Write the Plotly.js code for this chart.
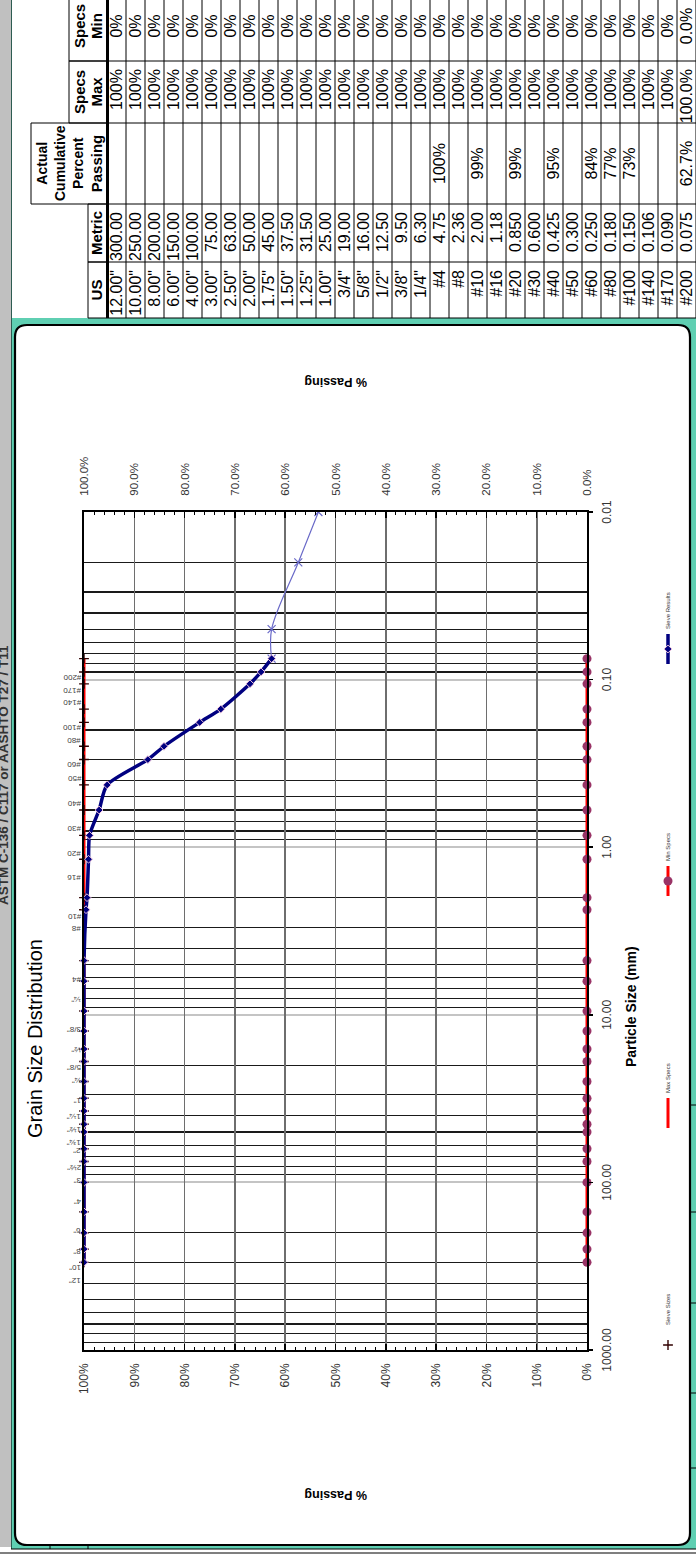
<!DOCTYPE html>
<html><head><meta charset="utf-8">
<script src="https://cdn.plot.ly/plotly-3.0.1.min.js"></script>
<style>
html,body{margin:0;padding:0;width:696px;height:1554px;overflow:hidden;background:#fff;}
#wrap{position:absolute;left:0;top:0;width:1580px;height:700px;transform-origin:0 0;}
</style></head><body>
<div id="wrap"><div id="chart"></div></div>
<script>
// ---------- DATA ----------
const usSieves = ['12.00"','10.00"','8.00"','6.00"','4.00"','3.00"','2.50"','2.00"','1.75"','1.50"','1.25"','1.00"','3/4"','5/8"','1/2"','3/8"','1/4"','#4','#8','#10','#16','#20','#30','#40','#50','#60','#80','#100','#140','#170','#200'];
const metricSizes = ['300.00','250.00','200.00','150.00','100.00','75.00','63.00','50.00','45.00','37.50','31.50','25.00','19.00','16.00','12.50','9.50','6.30','4.75','2.36','2.00','1.18','0.850','0.600','0.425','0.300','0.250','0.180','0.150','0.106','0.090','0.075'];
const actualPassing = ['','','','','','','','','','','','','','','','','','100%','','99%','','99%','','95%','','84%','77%','73%','','','62.7%'];
const specMax = ['100%','100%','100%','100%','100%','100%','100%','100%','100%','100%','100%','100%','100%','100%','100%','100%','100%','100%','100%','100%','100%','100%','100%','100%','100%','100%','100%','100%','100%','100%','100.0%'];
const specMin = ['0%','0%','0%','0%','0%','0%','0%','0%','0%','0%','0%','0%','0%','0%','0%','0%','0%','0%','0%','0%','0%','0%','0%','0%','0%','0%','0%','0%','0%','0%','0.0%'];
const tableHeader = ['US','Metric','Passing','Max','Min'];
const sieveLabels = ['12"','10"','8"','6"','4"','3"','2½"','2"','1¾"','1½"','1¼"','1"','¾"','5/8"','½"','3/8"','¼"','#4','#8','#10','#16','#20','#30','#40','#50','#60','#80','#100','#140','#170','#200'];
const sieveMarkLevel = [100,100,100,100,100,100,100,100,100,100,100,100,100,100,100,100,100,100,100,100,100,100,100,100,100,100,100,100,100,100,100];
const sieveResults = [100,100,100,100,100,100,100,100,100,100,100,100,100,100,100,100,100,100,99.6,99.4,99.1,98.9,97.0,95.4,87.3,84.1,77.0,72.8,67.0,64.8,62.7];
const extSizes = [0.075,0.05,0.02,0.01];
const extPassing = [62.7,62.7,57.4,53.4];
const sizeTicks = [0.01,0.1,1,10,100,1000];
const pctTicks = [0,10,20,30,40,50,60,70,80,90,100];
const pctLabelsLeft = ['0%','10%','20%','30%','40%','50%','60%','70%','80%','90%','100%'];
const pctLabelsRight = ['0.0%','10.0%','20.0%','30.0%','40.0%','50.0%','60.0%','70.0%','80.0%','90.0%','100.0%'];

// ---------- DERIVED ----------
const sizes = metricSizes.map(Number);
const maxVals = specMax.map(parseFloat);
const minVals = specMin.map(parseFloat);
const minorVals = [];
for (let d = -2; d < 3; d++) for (let m = 2; m < 10; m++) minorVals.push(m * Math.pow(10, d));

// ---------- GEOMETRY (landscape page, rotated afterwards) ----------
const W = 1580, H = 700;
const fx = X => X / W;
const fy = Y => 1 - Y / H;
const FONT = 'Liberation Sans, Arial, sans-serif';
function roundRect(x0, y0, x1, y1, r) {
  const P = (X, Y) => fx(X) + ',' + fy(Y);
  return 'M' + P(x0 + r, y0) + ' L' + P(x1 - r, y0) + ' Q' + P(x1, y0) + ' ' + P(x1, y0 + r) +
    ' L' + P(x1, y1 - r) + ' Q' + P(x1, y1) + ' ' + P(x1 - r, y1) +
    ' L' + P(x0 + r, y1) + ' Q' + P(x0, y1) + ' ' + P(x0, y1 - r) +
    ' L' + P(x0, y0 + r) + ' Q' + P(x0, y0) + ' ' + P(x0 + r, y0) + ' Z';
}
const pr = {xref: 'paper', yref: 'paper'};
const colEdges = [1236, 1292, 1350, 1431, 1493, 1563];
const colW = colEdges.slice(1).map((e, i) => e - colEdges[i]);
const headTop = 88, bodyTop = 107, rowH = 19, textLift = 5;

const traces = [
  {type: 'scatter', x: sizes, y: maxVals, name: 'Max Specs', mode: 'lines', legendrank: 2,
   line: {color: '#ff0000', width: 3}, cliponaxis: false, hoverinfo: 'skip'},
  {type: 'scatter', x: sizes, y: minVals, name: 'Min Specs', mode: 'lines+markers', legendrank: 3,
   line: {color: '#ff0000', width: 3}, marker: {symbol: 'circle', size: 9, color: '#993366'},
   cliponaxis: false, hoverinfo: 'skip'},
  {type: 'scatter', x: sizes, y: sieveMarkLevel, name: 'Sieve Sizes', mode: 'markers', legendrank: 1,
   marker: {symbol: 'cross-thin', size: 7, color: '#300000', line: {width: 1.4, color: '#300000'}},
   cliponaxis: false, hoverinfo: 'skip'},
  {type: 'scatter', x: extSizes, y: extPassing, name: 'ext', mode: 'lines+markers', showlegend: false,
   line: {color: '#6a6ac8', width: 1.2, shape: 'spline', smoothing: 1},
   marker: {symbol: 'x-thin', size: 8, color: '#6a6ac8', line: {width: 1.2, color: '#6a6ac8'}}, hoverinfo: 'skip'},
  {type: 'scatter', x: sizes, y: sieveResults, name: 'Sieve Results', mode: 'lines+markers', legendrank: 4,
   line: {color: '#000080', width: 3.5, shape: 'spline', smoothing: 0.7},
   marker: {symbol: 'diamond', size: 6, color: '#000080', line: {width: 1, color: '#f0c4dc'}},
   cliponaxis: false, hoverinfo: 'skip'},
  {type: 'scatter', x: extSizes, y: extPassing, yaxis: 'y2', mode: 'none', showlegend: false, hoverinfo: 'skip'},
  {type: 'table', domain: {x: [fx(colEdges[0]), fx(colEdges[5])], y: [0, fy(headTop - textLift)]},
   columnwidth: colW,
   header: {values: tableHeader, height: rowH, align: 'center',
            line: {color: 'rgba(0,0,0,0)', width: 0}, fill: {color: 'rgba(255,255,255,0)'},
            font: {family: FONT, size: 15, color: '#000', weight: 'bold'}},
   cells: {values: [usSieves, metricSizes, actualPassing, specMax, specMin], height: rowH,
           align: ['right', 'right', 'center', 'right', 'center'],
           line: {color: 'rgba(0,0,0,0)', width: 0}, fill: {color: 'rgba(255,255,255,0)'},
           font: {family: FONT, size: 16, color: '#000'}}}
];

const shapes = [
  Object.assign({type: 'rect', x0: fx(7), x1: 1, y0: fy(11), y1: 1, fillcolor: '#c0c0c0', line: {width: 0}, layer: 'below'}, pr),
  Object.assign({type: 'rect', x0: fx(5), x1: fx(1236), y0: 0, y1: fy(11.5), fillcolor: '#5fcfb2', line: {width: 0}, layer: 'below'}, pr),
  Object.assign({type: 'line', x0: fx(5), x1: 1, y0: fy(11.5), y1: fy(11.5), line: {color: '#2d5c52', width: 1}, layer: 'below'}, pr),
  Object.assign({type: 'path', path: roundRect(9, 15, 1229, 690, 12), fillcolor: '#fff', line: {color: '#000', width: 2.2}, layer: 'below'}, pr),
  Object.assign({type: 'line', x0: fx(1), x1: fx(1), y0: 0, y1: 1, line: {color: '#000', width: 1.2}}, pr),
  Object.assign({type: 'line', x0: fx(5), x1: fx(5), y0: 0, y1: fy(11), line: {color: '#000', width: 1.2}}, pr)
];
// table header boxes
[[colEdges[0], colEdges[1], headTop], [colEdges[1], colEdges[2], headTop], [colEdges[2], colEdges[3], 31],
 [colEdges[3], colEdges[4], 69], [colEdges[4], colEdges[5], 69]].forEach(b => shapes.push(Object.assign(
  {type: 'rect', x0: fx(b[0]), x1: fx(b[1]), y0: fy(bodyTop), y1: fy(b[2]), line: {color: '#000', width: 1},
   fillcolor: 'rgba(0,0,0,0)', layer: 'above'}, pr)));
// body grid
colEdges.forEach(X => shapes.push(Object.assign({type: 'line', x0: fx(X), x1: fx(X), y0: 0, y1: fy(bodyTop),
  line: {color: '#000', width: 1}, layer: 'above'}, pr)));
usSieves.forEach((u, i) => shapes.push(Object.assign({type: 'line', x0: fx(colEdges[0]), x1: fx(colEdges[5]),
  y0: fy(bodyTop + rowH * (i + 1)), y1: fy(bodyTop + rowH * (i + 1)), line: {color: '#000', width: 1}, layer: 'above'}, pr)));
shapes.push(Object.assign({type: 'line', x0: fx(colEdges[0]), x1: fx(colEdges[5]), y0: fy(bodyTop + 0.5), y1: fy(bodyTop + 0.5),
  line: {color: '#000', width: 3}, layer: 'above'}, pr));
// spreadsheet cell ticks in the frame
[86, 161, 251, 342, 449].forEach(X => shapes.push(Object.assign({type: 'line', x0: fx(X), x1: fx(X), y0: fy(691), y1: fy(700), line: {color: '#000', width: 1}}, pr)));
[50, 88].forEach(Y => shapes.push(Object.assign({type: 'line', x0: fx(5), x1: fx(9), y0: fy(Y), y1: fy(Y), line: {color: '#000', width: 1}}, pr)));

const annotations = [
  Object.assign({text: 'ASTM C-136 / C117 or AASHTO T27 / T11', x: fx(779), y: fy(3.5), showarrow: false,
    xanchor: 'center', yanchor: 'middle', font: {family: FONT, size: 13.5, color: '#333', weight: 'bold'}}, pr),
  Object.assign({text: 'Grain Size Distribution', x: fx(515), y: fy(35), showarrow: false,
    xanchor: 'center', yanchor: 'middle', font: {family: FONT, size: 20, color: '#000'}}, pr),
  Object.assign({text: '% Passing', x: fx(59), y: fy(336), showarrow: false, textangle: -90,
    xanchor: 'center', yanchor: 'middle', font: {family: FONT, size: 12.5, color: '#000', weight: 'bold'}}, pr),
  Object.assign({text: '% Passing', x: fx(1172), y: fy(336), showarrow: false, textangle: -90,
    xanchor: 'center', yanchor: 'middle', font: {family: FONT, size: 12.5, color: '#000', weight: 'bold'}}, pr),
  Object.assign({text: 'Particle Size (mm)', x: fx(547), y: fy(631), showarrow: false,
    xanchor: 'center', yanchor: 'middle', font: {family: FONT, size: 14, color: '#000', weight: 'bold'}}, pr),
  Object.assign({text: 'Actual<br>Cumulative<br>Percent', x: fx(1390.5), y: fy(60), showarrow: false,
    xanchor: 'center', yanchor: 'middle', font: {family: FONT, size: 14, color: '#000', weight: 'bold'}}, pr),
  Object.assign({text: 'Specs', x: fx(1462), y: fy(79), showarrow: false,
    xanchor: 'center', yanchor: 'middle', font: {family: FONT, size: 15, color: '#000', weight: 'bold'}}, pr),
  Object.assign({text: 'Specs', x: fx(1528), y: fy(79), showarrow: false,
    xanchor: 'center', yanchor: 'middle', font: {family: FONT, size: 15, color: '#000', weight: 'bold'}}, pr)
];
sizes.forEach((s, i) => annotations.push({
  x: Math.log10(s), y: sieveMarkLevel[i], xref: 'x', yref: 'y', text: sieveLabels[i], showarrow: false,
  textangle: -90, xanchor: 'center', yanchor: 'bottom', xshift: -19, yshift: 1,
  font: {family: FONT, size: 8, color: '#444'}
}));

const layout = {
  width: W, height: H, margin: {l: 0, r: 0, t: 0, b: 0, pad: 0},
  paper_bgcolor: '#fff', plot_bgcolor: 'rgba(0,0,0,0)',
  font: {family: FONT, color: '#222'},
  showlegend: true,
  legend: {orientation: 'h', x: fx(189), xanchor: 'left', y: fy(668), yanchor: 'middle',
           font: {family: FONT, size: 6, color: '#333'}, bgcolor: 'rgba(0,0,0,0)',
           entrywidth: 187, entrywidthmode: 'pixels', itemwidth: 30, borderwidth: 0},
  xaxis: {domain: [fx(204), fx(1042)], anchor: 'y', type: 'log', autorange: false, range: [3, -2],
          tickmode: 'array', tickvals: sizeTicks, tickformat: '.2f',
          ticks: 'outside', ticklen: 4, tickwidth: 1.5, tickcolor: '#000', ticklabelstandoff: 4,
          tickfont: {family: FONT, size: 12, color: '#333'},
          showline: true, linecolor: '#000', linewidth: 2, mirror: true,
          showgrid: true, gridcolor: '#c4c4c4', gridwidth: 2, zeroline: false,
          minor: {tickmode: 'array', tickvals: minorVals, showgrid: true, gridcolor: '#1a1a1a', gridwidth: 1.2, ticks: ''}},
  yaxis: {domain: [fy(587), fy(84)], anchor: 'x', range: [0, 100], autorange: false,
          tickmode: 'array', tickvals: pctTicks, ticktext: pctLabelsLeft,
          ticks: 'inside', ticklen: 6, tickwidth: 1.5, tickcolor: '#000', ticklabelstandoff: 9,
          tickfont: {family: FONT, size: 12, color: '#333'},
          showline: true, linecolor: '#000', linewidth: 2,
          showgrid: true, gridcolor: '#6e6e6e', gridwidth: 1.6, zeroline: false,
          minor: {dtick: 2, tick0: 0, ticks: 'inside', ticklen: 3, tickwidth: 1, tickcolor: '#000', showgrid: false}},
  yaxis2: {overlaying: 'y', side: 'right', anchor: 'x', range: [0, 100], autorange: false,
           tickmode: 'array', tickvals: pctTicks, ticktext: pctLabelsRight,
           ticks: 'inside', ticklen: 6, tickwidth: 1.5, tickcolor: '#000', ticklabelstandoff: 12,
           tickfont: {family: FONT, size: 11.5, color: '#333'},
           showline: true, linecolor: '#000', linewidth: 2, showgrid: false, zeroline: false,
           minor: {dtick: 2, tick0: 0, ticks: 'inside', ticklen: 3, tickwidth: 1, tickcolor: '#000', showgrid: false}},
  shapes: shapes,
  annotations: annotations
};

Plotly.newPlot('chart', traces, layout, {staticPlot: true, displayModeBar: false}).then(function () {
  document.getElementById('wrap').style.transform = 'translate(0px,1554px) rotate(-90deg)';
});
</script>
</body></html>
